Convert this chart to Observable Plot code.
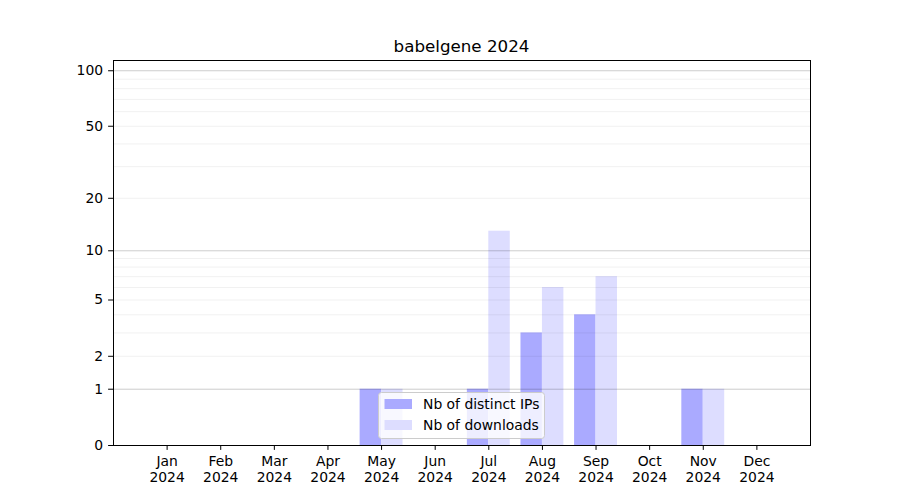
<!DOCTYPE html>
<html>
<head>
<meta charset="utf-8">
<script src="https://cdn.jsdelivr.net/npm/d3@7"></script>
<script src="https://cdn.jsdelivr.net/npm/@observablehq/plot@0.6"></script>
<style>
  html, body { margin: 0; padding: 0; background: white; }
  #chart { width: 900px; height: 500px; }
</style>
</head>
<body>
<div id="chart"></div>
<script>
const title = "babelgene 2024";
const months = ["Jan","Feb","Mar","Apr","May","Jun","Jul","Aug","Sep","Oct","Nov","Dec"];
const year = "2024";
const distinctIPs = [0,0,0,0,1,0,1,3,4,0,1,0];
const downloads   = [0,0,0,0,1,0,13,6,7,0,1,0];
const seriesNames = ["Nb of distinct IPs", "Nb of downloads"];
const yTicks = [0,1,2,5,10,20,50,100];
const majorGrid = [1,10,100];
const minorGrid = [2,3,4,5,6,7,8,9,20,30,40,50,60,70,80,90];

const data = months.map((m,i) => ({i, month: m, ips: distinctIPs[i], dl: downloads[i]}));
const barW = 0.4;
const ipColor = "#aaaaff";
const dlColor = "#ddddff";

const plot = Plot.plot({
  width: 900,
  height: 500,
  marginLeft: 113,
  marginRight: 90,
  marginTop: 60,
  marginBottom: 55,
  style: {fontFamily: "DejaVu Sans", fontSize: "13.9px", color: "black", background: "white"},
  x: {type: "linear", domain: [-1, 12]},
  y: {type: "symlog", constant: 1, domain: [0, 113.6]},
  marks: [
    Plot.rect(data.filter(d => d.ips > 0), {x1: d => d.i - barW, x2: d => d.i, y1: 0, y2: "ips", fill: ipColor}),
    Plot.rect(data.filter(d => d.dl > 0), {x1: d => d.i, x2: d => d.i + barW, y1: 0, y2: "dl", fill: dlColor}),
    Plot.ruleY(minorGrid, {stroke: "#000", strokeOpacity: 0.075, strokeWidth: 0.8}),
    Plot.ruleY(majorGrid, {stroke: "#000", strokeOpacity: 0.2, strokeWidth: 1}),
    Plot.axisY({ticks: yTicks, tickFormat: d => String(d), tickSize: 4.9, tickPadding: 5.5, label: null}),
    Plot.axisX({ticks: d3.range(12), tickFormat: i => months[i], tickSize: 4.9, tickPadding: 5.5, label: null}),
    Plot.axisX({ticks: d3.range(12), tickFormat: () => year, tickSize: 0, tickPadding: 26.5, label: null}),
    Plot.frame({stroke: "black", strokeWidth: 1})
  ]
});

document.getElementById("chart").appendChild(plot);
const svg = d3.select(plot);

svg.append("text")
  .attr("x", 461.5).attr("y", 52)
  .attr("text-anchor", "middle")
  .attr("font-family", "DejaVu Sans")
  .attr("font-size", "16.7px")
  .attr("fill", "black")
  .text(title);

// legend
const lg = svg.append("g").attr("transform", "translate(378.5,392.5)");
lg.append("rect").attr("width", 166).attr("height", 46).attr("rx", 3)
  .attr("fill", "white").attr("fill-opacity", 0.8).attr("stroke", "#cccccc");
const colors = [ipColor, dlColor];
seriesNames.forEach((name, k) => {
  lg.append("rect").attr("x", 6).attr("y", 6.5 + k * 21).attr("width", 27.5).attr("height", 10)
    .attr("fill", colors[k]);
  lg.append("text").attr("x", 44.5).attr("y", 16.5 + k * 21)
    .attr("text-anchor", "start")
    .attr("font-family", "DejaVu Sans").attr("font-size", "13.9px").attr("fill", "black")
    .text(name);
});
</script>
</body>
</html>
